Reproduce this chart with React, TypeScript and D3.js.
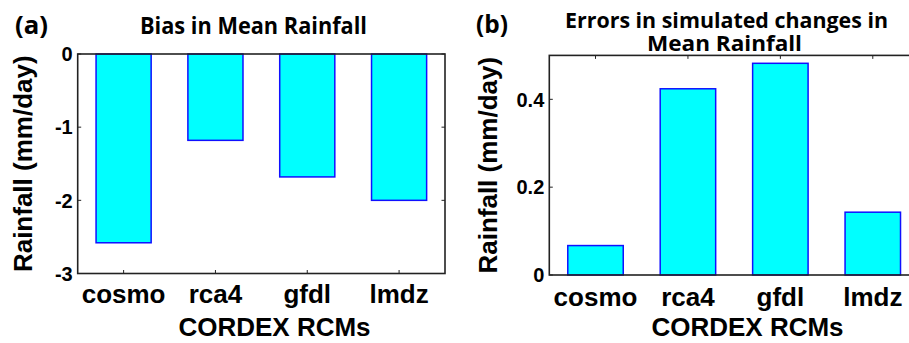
import React from "react";
import * as d3 from "d3";

const categories = ["cosmo", "rca4", "gfdl", "lmdz"];
const biasValues = [-2.58, -1.18, -1.68, -2.0];
const errorValues = [0.067, 0.424, 0.482, 0.143];
const biasTicks = [0, -1, -2, -3];
const errorTicks = [0, 0.2, 0.4];
const biasTickLabels = ["0", "-1", "-2", "-3"];
const errorTickLabels = ["0", "0.2", "0.4"];

const AX = "Liberation Sans, Arial, sans-serif";
const TF = "'Open Sans', Lato, sans-serif";

type PanelProps = {
  left: number; right: number; top: number; bottom: number;
  yDomain: [number, number]; values: number[]; ticks: number[]; tickLabels: string[];
  letter: string; letterX: number; letterY: number; letterW: number;
  titleLines: string[]; titleX: number[]; titleY: number[]; titleW: number[]; titleSize: number;
  ylabelX: number; xlabelX: number; xtickY: number; clipId: string;
};

function Panel(p: PanelProps) {
  const x = d3.scaleLinear().domain([0.5, 4.5]).range([p.left, p.right]);
  const y = d3.scaleLinear().domain(p.yDomain).range([p.bottom, p.top]);
  const bw = 0.6;
  const tl = 3.5;
  const midY = (p.top + p.bottom) / 2;
  return (
    <g>
      <defs>
        <clipPath id={p.clipId}>
          <rect x={p.left - 2} y={p.top - 2} width={p.right - p.left + 4} height={p.bottom - p.top + 4} />
        </clipPath>
      </defs>
      <g clipPath={`url(#${p.clipId})`}>
        {categories.map((c, i) => (
          <g key={"t" + c}>
            <line x1={x(i + 1)} x2={x(i + 1)} y1={p.bottom} y2={p.bottom - tl} stroke="#222" strokeWidth={1} />
            <line x1={x(i + 1)} x2={x(i + 1)} y1={p.top} y2={p.top + tl} stroke="#222" strokeWidth={1} />
          </g>
        ))}
        {p.ticks.map((t) => (
          <g key={"y" + t}>
            <line x1={p.left} x2={p.left + tl} y1={y(t)} y2={y(t)} stroke="#222" strokeWidth={1} />
            <line x1={p.right} x2={p.right - tl} y1={y(t)} y2={y(t)} stroke="#222" strokeWidth={1} />
          </g>
        ))}
        {p.values.map((v, i) => {
          const x0 = x(i + 1 - bw / 2);
          const x1 = x(i + 1 + bw / 2);
          const y0 = y(Math.max(0, v));
          const y1 = y(Math.min(0, v));
          return (
            <rect key={categories[i]} x={x0} y={y0} width={x1 - x0} height={y1 - y0}
              fill="#00FFFF" stroke="#1010FF" strokeWidth={1.5} />
          );
        })}
        <rect x={p.left} y={p.top} width={p.right - p.left} height={p.bottom - p.top}
          fill="none" stroke="#222" strokeWidth={1.6} />
      </g>
      {p.ticks.map((t, i) => (
        <text key={"yl" + t} x={p.left - 5} y={y(t)} dy="0.36em" textAnchor="end"
          fontFamily={AX} fontWeight="bold" fontSize={20} fill="#000">{p.tickLabels[i]}</text>
      ))}
      {categories.map((c, i) => (
        <text key={"xl" + c} x={x(i + 1)} y={p.xtickY} textAnchor="middle"
          fontFamily={AX} fontWeight="bold" fontSize={26} fill="#000">{c}</text>
      ))}
      <text x={p.xlabelX} y={336} textAnchor="middle" fontFamily={AX} fontWeight="bold" fontSize={26} fill="#000">CORDEX RCMs</text>
      <text transform={`translate(${p.ylabelX},${midY}) rotate(-90)`} textAnchor="middle"
        fontFamily={AX} fontWeight="bold" fontSize={26} fill="#000">Rainfall (mm/day)</text>
      <text x={p.letterX} y={p.letterY} textLength={p.letterW} lengthAdjust="spacingAndGlyphs"
        fontFamily={TF} fontWeight="bold" fontSize={25} fill="#000">{p.letter}</text>
      {p.titleLines.map((l, i) => (
        <text key={l} x={p.titleX[i]} y={p.titleY[i]} textLength={p.titleW[i]} lengthAdjust="spacingAndGlyphs"
          fontFamily={TF} fontWeight="bold" fontSize={p.titleSize} fill="#000">{l}</text>
      ))}
    </g>
  );
}

export default function App() {
  return (
    <svg width={909} height={343} style={{ position: "absolute", left: 0, top: 0, background: "#fff" }}>
      <rect width={909} height={343} fill="#fff" />
      <Panel left={77.7} right={445} top={54} bottom={273.5} yDomain={[-3, 0]}
        values={biasValues} ticks={biasTicks} tickLabels={biasTickLabels}
        letter="(a)" letterX={15} letterY={34} letterW={33}
        titleLines={["Bias in Mean Rainfall"]} titleX={[140]} titleY={[34]} titleW={[227]} titleSize={22.5}
        ylabelX={32} xlabelX={274.5} xtickY={303} clipId="ca" />
      <Panel left={549.3} right={919} top={55.4} bottom={275} yDomain={[0, 0.5]}
        values={errorValues} ticks={errorTicks} tickLabels={errorTickLabels}
        letter="(b)" letterX={476} letterY={33} letterW={32}
        titleLines={["Errors in simulated changes in", "Mean Rainfall"]} titleX={[565, 647]} titleY={[28, 50.5]} titleW={[323, 155]} titleSize={21.5}
        ylabelX={497} xlabelX={747.5} xtickY={306} clipId="cb" />
    </svg>
  );
}
